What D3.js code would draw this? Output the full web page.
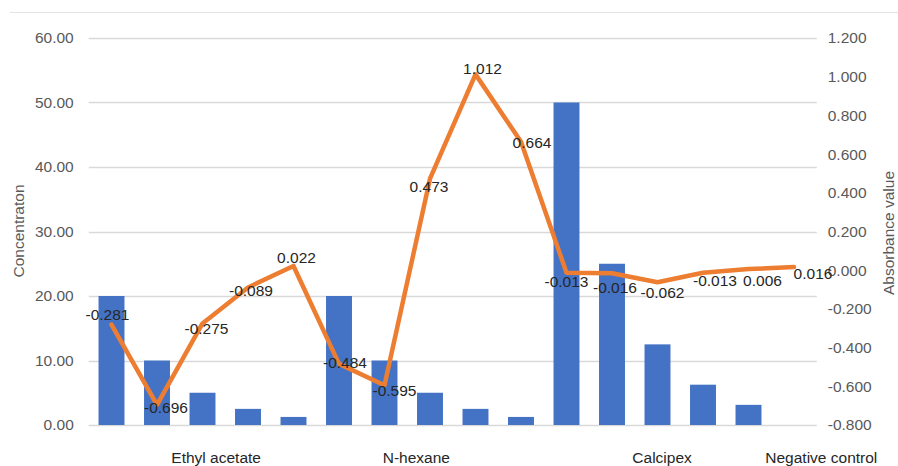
<!DOCTYPE html>
<html>
<head>
<meta charset="utf-8">
<script src="https://cdn.jsdelivr.net/npm/d3@7"></script>
<style>
  html, body { margin: 0; padding: 0; background: #fff; }
  svg { display: block; font-family: "Liberation Sans", Arial, sans-serif; }
</style>
</head>
<body>
<svg id="chart" width="898" height="466"></svg>
<script>
// Sample groups (x axis), one bar + one line point per dilution step
const categories = [
  "EA-1", "EA-2", "EA-3", "EA-4", "EA-5",
  "NH-1", "NH-2", "NH-3", "NH-4", "NH-5",
  "CP-1", "CP-2", "CP-3", "CP-4", "CP-5",
  "NC"
];
// Concentration (left axis, bars)
const concentration = [
  20, 10, 5, 2.5, 1.25,
  20, 10, 5, 2.5, 1.25,
  50, 25, 12.5, 6.25, 3.125,
  0
];
// Absorbance value (right axis, line)
const absorbance = [
  -0.281, -0.696, -0.275, -0.089, 0.022,
  -0.484, -0.595, 0.473, 1.012, 0.664,
  -0.013, -0.016, -0.062, -0.013, 0.006,
  0.016
];
// Group names shown under the axis and the category slot they sit under
const groupLabels = ["Ethyl acetate", "N-hexane", "Calcipex", "Negative control"];
const groupSlots = [2.8, 7.2, 12.6, 16.1];
const leftTicks = [0, 10, 20, 30, 40, 50, 60];
const rightTicks = [-0.8, -0.6, -0.4, -0.2, 0, 0.2, 0.4, 0.6, 0.8, 1.0, 1.2];

// small nudges for the value labels so they sit clear of the line
const labelNudge = [
  [-4, -10], [9, 3], [4, 5], [3, 3], [3, -8],
  [6, -1], [10, 5], [-1, 8], [7, -6], [11, 1],
  [0, 9], [3, 14], [5, 10], [12, 8], [14, 12],
  [19, 6]
];

const svg = d3.select("#chart");
const plot = { left: 88.75, right: 816.75, top: 38, bottom: 425 };

// plain hyphen-minus for negative numbers
const fmt = p => d => d3.format(p)(d).replace("\u2212", "-");

const x = d3.scaleBand()
  .domain(categories)
  .range([plot.left, plot.right])
  .paddingInner(0.43)
  .paddingOuter(0.215);
const slot = d3.scaleLinear()
  .domain([0, categories.length])
  .range([plot.left, plot.right]);
const yL = d3.scaleLinear().domain([0, 60]).range([plot.bottom, plot.top]);
const yR = d3.scaleLinear().domain([-0.8, 1.2]).range([plot.bottom, plot.top]);

const grey = "#595959";
const fs = "15.5px";

// outer frame top edge
svg.append("line")
  .attr("x1", 10).attr("x2", 898).attr("y1", 12.5).attr("y2", 12.5)
  .attr("stroke", "#e3e3e3").attr("stroke-width", 1);

// gridlines from the left axis
svg.append("g")
  .selectAll("line").data(leftTicks).join("line")
  .attr("x1", plot.left).attr("x2", plot.right)
  .attr("y1", d => Math.round(yL(d)) + 0.5)
  .attr("y2", d => Math.round(yL(d)) + 0.5)
  .attr("stroke", "#d9d9d9").attr("stroke-width", 1.5);

// left axis
const axL = svg.append("g")
  .attr("transform", `translate(${plot.left},0)`)
  .call(d3.axisLeft(yL).tickValues(leftTicks).tickFormat(fmt(".2f")).tickSize(0).tickPadding(15));
axL.select(".domain").remove();
axL.selectAll("text").attr("fill", grey).style("font-size", fs)
  .style("font-family", '"Liberation Sans", Arial, sans-serif');

// right axis
const axR = svg.append("g")
  .attr("transform", `translate(${plot.right},0)`)
  .call(d3.axisRight(yR).tickValues(rightTicks).tickFormat(fmt(".3f")).tickSize(0).tickPadding(11));
axR.select(".domain").remove();
axR.selectAll("text").attr("fill", grey).style("font-size", fs)
  .style("font-family", '"Liberation Sans", Arial, sans-serif');

// bars
svg.append("g")
  .selectAll("rect").data(categories).join("rect")
  .attr("x", d => x(d))
  .attr("width", x.bandwidth())
  .attr("y", (d, i) => yL(concentration[i]))
  .attr("height", (d, i) => yL(0) - yL(concentration[i]))
  .attr("fill", "#4472C4");

// absorbance line
const line = d3.line()
  .x((d, i) => x(categories[i]) + x.bandwidth() / 2)
  .y(d => yR(d));
svg.append("path")
  .datum(absorbance)
  .attr("d", line)
  .attr("fill", "none")
  .attr("stroke", "#ED7D31")
  .attr("stroke-width", 4.5)
  .attr("stroke-linejoin", "round")
  .attr("stroke-linecap", "round");

// value labels on the line
svg.append("g")
  .selectAll("text").data(absorbance).join("text")
  .attr("x", (d, i) => x(categories[i]) + x.bandwidth() / 2 + labelNudge[i][0])
  .attr("y", (d, i) => yR(d) + labelNudge[i][1])
  .attr("dy", "0.35em")
  .attr("text-anchor", "middle")
  .attr("fill", "#262626")
  .style("font-size", fs)
  .text(fmt(".3f"));

// group names under the axis
svg.append("g")
  .selectAll("text").data(groupLabels).join("text")
  .attr("x", (d, i) => slot(groupSlots[i]))
  .attr("y", 463)
  .attr("text-anchor", "middle")
  .attr("fill", "#262626")
  .style("font-size", fs)
  .text(d => d);

// axis titles
svg.append("text")
  .attr("transform", `translate(24,231) rotate(-90)`)
  .attr("text-anchor", "middle")
  .attr("fill", grey)
  .style("font-size", fs)
  .text("Concentraton");
svg.append("text")
  .attr("transform", `translate(894,233) rotate(-90)`)
  .attr("text-anchor", "middle")
  .attr("fill", grey)
  .style("font-size", fs)
  .text("Absorbance value");
</script>
</body>
</html>
